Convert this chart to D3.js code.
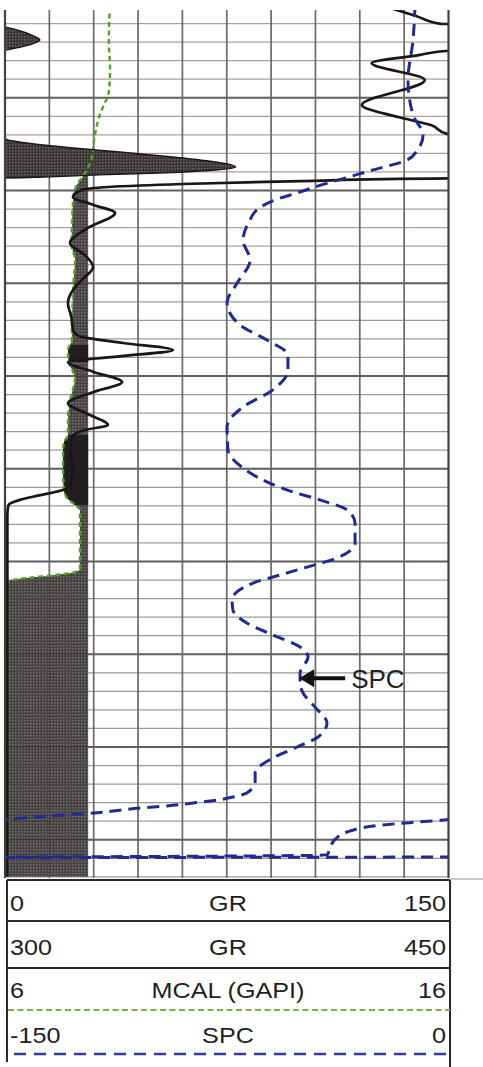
<!DOCTYPE html>
<html>
<head>
<meta charset="utf-8">
<script src="https://cdn.jsdelivr.net/npm/d3@7"></script>
<style>
body { margin: 0; background: #fff; }
svg { display: block; }
</style>
</head>
<body>
<svg id="chart" width="483" height="1067"></svg>
<script>
// depth in ft below top of section, curve values in log units
const grDepth = [0, 0.59, 1.02, 1.19, 1.35, 1.62, 1.89, 2.16, 2.37, 2.43, 2.48, 2.70, 3.13, 4.04, 5.39, 6.04, 6.47, 6.95, 7.22, 7.28, 7.55, 8.03, 8.25, 8.73, 8.95, 9.06, 9.16, 9.27, 9.33, 9.35, 9.49, 9.65, 9.81, 9.97, 10.35, 10.78, 11.21, 12.02, 12.83, 13.48, 14.12, 14.82, 15.36, 16.06, 16.87, 17.52, 17.84, 18.22, 18.60, 18.92, 19.25, 19.78, 20.32, 20.86, 21.46, 22.05, 22.64, 22.91, 23.23, 23.99, 25.07, 25.88, 26.15, 26.42, 26.68, 26.95, 27.49, 47]
const grValue = [127, 139, 147.5, 300, 304, 309, 311.8, 308, 302, 300, 149, 140, 124, 142, 120.7, 133, 144, 149.5, 300, 301, 313, 346, 360, 378, 366, 352, 332, 313, 300, 150, 100, 60, 35, 26, 23, 30, 37.2, 28, 22, 27, 29.8, 26, 23, 21.3, 22.5, 23, 25, 40, 56.8, 40, 21.3, 30, 39.6, 30, 21.3, 28, 34.8, 27, 23, 22, 23, 22, 19.6, 12, 5, 1.2, 0.8, 0.8]

const mcalDepth = [0, 1.89, 3.50, 4.85, 5.28, 6.04, 6.74, 7.44, 7.98, 8.63, 9.16, 9.70, 10.24, 10.78, 11.86, 12.94, 13.75, 14.82, 15.90, 16.98, 18.06, 18.60, 19.25, 20.11, 21.29, 22.37, 23.18, 23.56, 23.99, 25.07, 26.15, 26.58, 26.95, 27.22, 28.84, 30.40, 30.57, 31.08, 47]
const mcalValue = [8.37, 8.34, 8.37, 8.33, 8.25, 8.12, 8.05, 8.00, 7.98, 7.90, 7.78, 7.62, 7.55, 7.53, 7.51, 7.50, 7.58, 7.55, 7.53, 7.51, 7.51, 7.42, 7.44, 7.58, 7.47, 7.42, 7.42, 7.33, 7.31, 7.31, 7.33, 7.40, 7.58, 7.69, 7.69, 7.69, 7.58, 6.07, 6.07]
const bitSize = 7.875

const spcDepth = [0, 1.89, 4.04, 5.93, 7.01, 7.82, 8.36, 8.89, 9.33, 9.70, 10.13, 10.51, 10.94, 11.70, 12.67, 13.75, 14.99, 16.06, 17.25, 18.06, 18.87, 19.68, 20.75, 21.67, 22.75, 23.99, 24.96, 25.71, 26.25, 26.68, 27.22, 27.92, 29.00, 29.81, 30.30, 30.73, 31.16, 32.08, 32.61, 33.32, 33.96, 34.61, 35.15, 36.01, 36.55, 37.09, 37.84, 38.71, 39.46, 40.00, 40.59, 41.40, 41.89, 42.48, 42.70, 42.86, 43.02, 43.18, 43.29, 43.45, 43.55, 43.61, 43.72, 43.83, 43.88, 43.94, 44.04, 44.20, 44.58, 45.01, 45.44, 45.82, 45.93, 45.96]
const spcValue = [-11.3, -12.0, -13.7, -12.0, -8.6, -10.5, -14.0, -25.5, -35, -43, -51.2, -58.7, -64, -67.5, -69.5, -67.1, -71.5, -74.9, -70.5, -61.4, -54.3, -54.3, -59.4, -69.5, -74.9, -74.6, -69.5, -61.4, -52.6, -43.5, -34.3, -31.6, -31.6, -37.7, -47.9, -57.0, -66.1, -73.2, -72.9, -68.2, -59.4, -50.2, -47.5, -50.2, -50.2, -49.2, -45.2, -41.1, -44.1, -51.2, -59.4, -65.4, -65.4, -68.2, -72.9, -78.0, -86.4, -95.2, -104.3, -113.5, -118.9, -124.6, -134.8, -143.9, -149, -151.9, -160, -172.2, -184.3, -188.5, -190.1, -191, -300, -449]

// intervals where the caliper shading is solid black
const darkZones = [[18.33, 19.25], [23.18, 26.95]]
const spcLabel = { depth: 36.3, value: -50.5, text: 'SPC' }

const headerLeft = ['0', '300', '6', '-150']
const headerName = ['GR', 'GR', 'MCAL (GAPI)', 'SPC']
const headerRight = ['150', '450', '16', '0']

const svg = d3.select('#chart')
const plotL = 5, plotR = 448.5, plotT = 10, plotB = 878
const ink = '#1c1515'
const spcColor = '#1f2b8f'
const calColor = '#55a02a'

const y = d3.scaleLinear().domain([0, 47]).range([5, 876.85])
const xGR = d3.scaleLinear().domain([0, 150]).range([plotL, plotR])
const xGRb = d3.scaleLinear().domain([300, 450]).range([plotL, plotR])
const xCal = d3.scaleLinear().domain([6, 16]).range([plotL, plotR])
const xSpc = d3.scaleLinear().domain([-150, 0]).range([plotL, plotR])
const xSpc2 = d3.scaleLinear().domain([-300, -150]).range([plotL, plotR])
const xSpc3 = d3.scaleLinear().domain([-450, -300]).range([plotL, plotR])

const defs = svg.append('defs')
defs.append('clipPath').attr('id', 'plotClip')
	.append('rect')
	.attr('x', plotL).attr('y', plotT)
	.attr('width', plotR - plotL).attr('height', plotB - plotT)

const pat = defs.append('pattern')
	.attr('id', 'hatch')
	.attr('width', 3).attr('height', 3)
	.attr('patternUnits', 'userSpaceOnUse')
pat.append('rect').attr('width', 3).attr('height', 3).attr('fill', '#3b3435')
pat.append('rect').attr('width', 1.5).attr('height', 1.5).attr('fill', '#6b6364')

darkZones.forEach((z, i) => {
	defs.append('clipPath').attr('id', 'zone' + i)
		.append('rect')
		.attr('x', plotL).attr('y', y(z[0]))
		.attr('width', plotR - plotL).attr('height', y(z[1]) - y(z[0]))
})

// grid
const grid = svg.append('g').attr('clip-path', 'url(#plotClip)')
grid.selectAll('line.h')
	.data(d3.range(1, 48))
	.enter()
	.append('line')
	.attr('x1', plotL).attr('x2', plotR)
	.attr('y1', d => y(d)).attr('y2', d => y(d))
	.attr('stroke', d => d % 5 === 0 ? '#615d5d' : (d < 16 ? '#b39c99' : '#9c9898'))
	.attr('stroke-width', d => d % 5 === 0 ? 1.8 : 1.2)

grid.selectAll('line.v')
	.data(d3.range(15, 150, 15))
	.enter()
	.append('line')
	.attr('x1', d => xGR(d)).attr('x2', d => xGR(d))
	.attr('y1', plotT).attr('y2', plotB)
	.attr('stroke', '#6a6868')
	.attr('stroke-width', 1.7)

const idx = n => d3.range(n)
const plot = svg.append('g').attr('clip-path', 'url(#plotClip)')

// GR backup shading (300-450)
const grBackArea = d3.area()
	.y(i => y(grDepth[i]))
	.x0(plotL)
	.x1(i => xGRb(grValue[i]))
	.curve(d3.curveMonotoneY)
plot.append('path')
	.attr('d', grBackArea(idx(grDepth.length)))
	.attr('fill', 'url(#hatch)')

// caliper shading between MCAL and bit size
const calArea = d3.area()
	.y(i => y(mcalDepth[i]))
	.x0(i => xCal(Math.min(mcalValue[i], bitSize)))
	.x1(xCal(bitSize))
	.curve(d3.curveMonotoneY)
plot.append('path')
	.attr('d', calArea(idx(mcalDepth.length)))
	.attr('fill', 'url(#hatch)')
	.attr('opacity', 0.93)

darkZones.forEach((z, i) => {
	plot.append('g').attr('clip-path', `url(#zone${i})`)
		.append('path')
		.attr('d', calArea(idx(mcalDepth.length)))
		.attr('fill', '#221e1f')
})

// MCAL
plot.append('path')
	.attr('d', d3.line().y(i => y(mcalDepth[i])).x(i => xCal(mcalValue[i])).curve(d3.curveMonotoneY)(idx(mcalDepth.length)))
	.attr('fill', 'none')
	.attr('stroke', calColor)
	.attr('stroke-width', 2.4)
	.attr('stroke-dasharray', '5,3.5')

// GR main and backup curve
plot.append('path')
	.attr('d', d3.line().y(i => y(grDepth[i])).x(i => xGRb(grValue[i])).curve(d3.curveMonotoneY)(idx(grDepth.length)))
	.attr('fill', 'none')
	.attr('stroke', ink)
	.attr('stroke-width', 1.4)

plot.append('path')
	.attr('d', d3.line().y(i => y(grDepth[i])).x(i => xGR(grValue[i])).curve(d3.curveMonotoneY)(idx(grDepth.length)))
	.attr('fill', 'none')
	.attr('stroke', ink)
	.attr('stroke-width', 2.7)

// SPC with wrap-around scales
;[xSpc, xSpc2, xSpc3].forEach(sc => {
	plot.append('path')
		.attr('d', d3.line().y(i => y(spcDepth[i])).x(i => sc(spcValue[i])).curve(d3.curveMonotoneY)(idx(spcDepth.length)))
		.attr('fill', 'none')
		.attr('stroke', spcColor)
		.attr('stroke-width', 3)
		.attr('stroke-dasharray', '12,7')
})

// borders
svg.append('line').attr('x1', plotL).attr('x2', plotL).attr('y1', plotT).attr('y2', plotB)
	.attr('stroke', '#444141').attr('stroke-width', 2.2)
svg.append('line').attr('x1', plotR).attr('x2', plotR).attr('y1', plotT).attr('y2', plotB)
	.attr('stroke', '#444141').attr('stroke-width', 2.2)

// SPC callout
const tipX = xSpc(spcLabel.value), tipY = y(spcLabel.depth)
svg.append('line')
	.attr('x1', tipX + 12).attr('x2', tipX + 46)
	.attr('y1', tipY).attr('y2', tipY)
	.attr('stroke', '#111').attr('stroke-width', 4)
svg.append('path')
	.attr('d', `M${tipX},${tipY} L${tipX + 15},${tipY - 9} L${tipX + 15},${tipY + 9} Z`)
	.attr('fill', '#111')
svg.append('text')
	.attr('x', tipX + 52).attr('y', tipY + 10)
	.attr('font-family', 'Liberation Sans, Arial, sans-serif')
	.attr('font-size', 26)
	.attr('fill', '#222')
	.text(spcLabel.text)

// header
const hdrL = 7, hdrR = 450
const header = svg.append('g')
;[880, 921, 968].forEach(v => {
	header.append('line').attr('x1', hdrL).attr('x2', hdrR).attr('y1', v).attr('y2', v)
		.attr('stroke', '#2b2828').attr('stroke-width', 2)
})
header.append('line').attr('x1', hdrR).attr('x2', 483).attr('y1', 879).attr('y2', 879)
	.attr('stroke', '#9a9898').attr('stroke-width', 1)
header.append('line').attr('x1', hdrL).attr('x2', hdrL).attr('y1', 880).attr('y2', 1062)
	.attr('stroke', '#2b2828').attr('stroke-width', 2)
header.append('line').attr('x1', hdrR).attr('x2', hdrR).attr('y1', 880).attr('y2', 1067)
	.attr('stroke', '#2b2828').attr('stroke-width', 2)
header.append('line').attr('x1', hdrL + 1).attr('x2', hdrR).attr('y1', 1010).attr('y2', 1010)
	.attr('stroke', '#78b442').attr('stroke-width', 2.2).attr('stroke-dasharray', '6,3.5')
header.append('line').attr('x1', 14).attr('x2', 446).attr('y1', 1054).attr('y2', 1054)
	.attr('stroke', '#2d3b9c').attr('stroke-width', 2.6).attr('stroke-dasharray', '12,8')

const rowY = [911, 955, 998, 1043]
const addText = (x, yy, anchor, txt) => {
	header.append('text')
		.attr('transform', `translate(${x},${yy}) scale(1.12,1)`)
		.attr('text-anchor', anchor)
		.attr('font-family', 'Liberation Sans, Arial, sans-serif')
		.attr('font-size', 22.5)
		.attr('fill', '#1e1e1e')
		.text(txt)
}
rowY.forEach((yy, i) => {
	addText(10, yy, 'start', headerLeft[i])
	addText(228, yy, 'middle', headerName[i])
	addText(446, yy, 'end', headerRight[i])
})
</script>
</body>
</html>
